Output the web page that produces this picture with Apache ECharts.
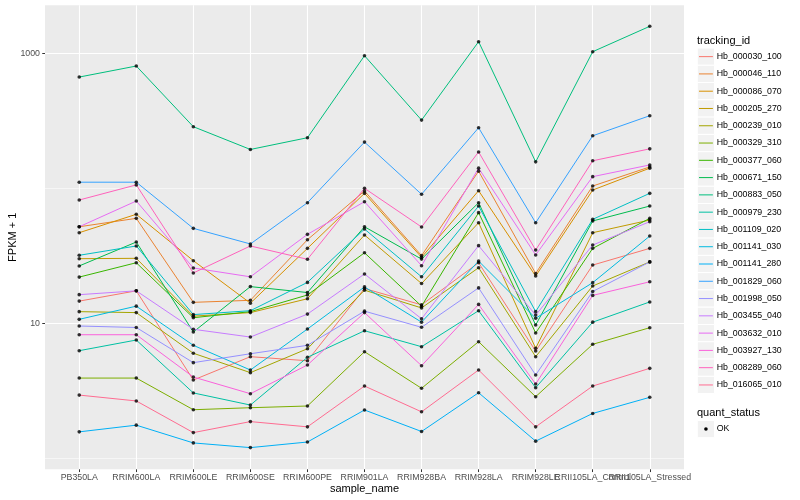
<!DOCTYPE html>
<html><head><meta charset="utf-8">
<script src="https://cdn.jsdelivr.net/npm/echarts@6/dist/echarts.min.js"></script>
<style>html,body{margin:0;padding:0;background:#fff}#chart{width:800px;height:500px}</style>
</head><body><div id="chart"></div>
<script>
// ---- data ----
const categories = ['PB350LA','RRIM600LA','RRIM600LE','RRIM600SE','RRIM600PE','RRIM901LA','RRIM928BA','RRIM928LA','RRIM928LE','RRII105LA_Control','RRII105LA_Stressed'];
const Hb_000030_100 = [14.6, 17.4, 3.80, 5.66, 5.28, 18.1, 13.7, 28.1, 6.23, 27.0, 35.9];
const Hb_000046_110 = [51.9, 59.9, 14.3, 14.8, 41.6, 95.5, 31.7, 134, 23.4, 104, 144];
const Hb_000086_070 = [46.9, 64.2, 29.1, 14.1, 35.9, 91.8, 30.8, 96.0, 22.4, 97.1, 141];
const Hb_000205_270 = [30.1, 30.3, 11.3, 12.0, 15.2, 45.1, 19.7, 55.6, 6.53, 46.9, 58.2];
const Hb_000239_010 = [12.2, 12.0, 6.00, 4.31, 6.48, 17.6, 13.0, 25.8, 5.66, 18.9, 28.5];
const Hb_000329_310 = [3.93, 3.93, 2.29, 2.37, 2.44, 6.16, 3.30, 7.31, 2.86, 6.99, 9.28];
const Hb_000377_060 = [22.0, 28.1, 11.0, 12.2, 16.2, 33.3, 13.4, 66.0, 8.48, 35.9, 59.9];
const Hb_000671_150 = [26.6, 40.0, 8.62, 18.7, 16.9, 51.9, 29.9, 78.2, 9.71, 57.3, 73.9];
const Hb_000883_050 = [667, 805, 286, 194, 237, 960, 320, 1219, 157, 1028, 1585];
const Hb_000979_230 = [6.27, 7.52, 3.05, 2.48, 5.60, 8.81, 6.71, 12.4, 3.33, 10.2, 14.4];
const Hb_001109_020 = [31.9, 37.4, 11.6, 12.4, 20.1, 49.9, 22.1, 73.9, 12.2, 58.9, 91.8];
const Hb_001141_030 = [10.7, 13.4, 6.87, 4.51, 9.07, 18.6, 10.2, 28.9, 10.9, 20.0, 44.3];
const Hb_001141_280 = [1.57, 1.76, 1.30, 1.20, 1.32, 2.28, 1.58, 3.06, 1.34, 2.15, 2.83];
const Hb_001829_060 = [111, 111, 50.5, 38.7, 78.2, 220, 90.3, 281, 55.6, 245, 345];
const Hb_001998_050 = [9.55, 9.31, 5.11, 5.95, 6.87, 12.3, 9.34, 18.3, 4.14, 17.2, 28.5];
const Hb_003455_040 = [16.3, 17.4, 9.03, 7.91, 11.7, 23.2, 10.8, 37.6, 11.5, 38.0, 56.6];
const Hb_003632_010 = [51.9, 80.5, 25.7, 22.1, 45.6, 79.6, 26.7, 141, 32.1, 122, 149];
const Hb_003927_130 = [8.23, 8.23, 4.00, 3.01, 4.91, 12.0, 4.85, 13.8, 3.55, 16.1, 20.3];
const Hb_008289_060 = [81.9, 106, 23.6, 37.4, 29.8, 100, 51.7, 186, 34.9, 160, 196];
const Hb_016065_010 = [2.94, 2.66, 1.55, 1.87, 1.71, 3.43, 2.21, 4.51, 1.71, 3.43, 4.64];

const geneNames = ['Hb_000030_100','Hb_000046_110','Hb_000086_070','Hb_000205_270','Hb_000239_010','Hb_000329_310','Hb_000377_060','Hb_000671_150','Hb_000883_050','Hb_000979_230','Hb_001109_020','Hb_001141_030','Hb_001141_280','Hb_001829_060','Hb_001998_050','Hb_003455_040','Hb_003632_010','Hb_003927_130','Hb_008289_060','Hb_016065_010'];
const geneValues = [Hb_000030_100,Hb_000046_110,Hb_000086_070,Hb_000205_270,Hb_000239_010,Hb_000329_310,Hb_000377_060,Hb_000671_150,Hb_000883_050,Hb_000979_230,Hb_001109_020,Hb_001141_030,Hb_001141_280,Hb_001829_060,Hb_001998_050,Hb_003455_040,Hb_003632_010,Hb_003927_130,Hb_008289_060,Hb_016065_010];
const yMajorTicks = [10, 1000];
const yMinorTicks = [1, 100];
const yRange = [0.829, 2268];
const quantStatus = ['OK'];

// ---- style ----
const colors = ['#F8766D','#EA8331','#D89000','#C09B00','#A3A500','#7CAE00','#39B600','#00BB4E','#00BF7D','#00C1A3','#00BFC4','#00BAE0','#00B0F6','#35A2FF','#9590FF','#C77CFF','#E76BF3','#FA62DB','#FF62BC','#FF6C91'];
const FONT = 'Liberation Sans, Arial, Helvetica, sans-serif';
const lg = Math.log10;

// split category label positions over two axes so neighbouring labels may overlap like the original
const xIdxAll = categories.map((c, i) => i);
const xIdxA = xIdxAll.filter(i => i % 2 === 0);
const xIdxB = xIdxAll.filter(i => i % 2 === 1);

const series = [];
geneValues.forEach((vals, g) => {
  const data = vals.map((v, i) => [i, lg(v)]);
  series.push({type: 'line', name: geneNames[g], data, showSymbol: false, z: 2,
    lineStyle: {color: colors[g], width: 1}, itemStyle: {color: colors[g]}, silent: true});
});
geneValues.forEach((vals, g) => {
  const data = vals.map((v, i) => [i, lg(v)]);
  series.push({type: 'scatter', name: geneNames[g] + '_pt', data, symbol: 'circle', symbolSize: 3.6, z: 3,
    itemStyle: {color: '#000'}, silent: true});
});

// legend drawn with graphics built from names/colors
const graphic = [];
const lx = 697.3, keyH = 17.28, lTop = 48;
graphic.push({type: 'text', x: 697, y: 40.5, style: {text: 'tracking_id', font: '11px ' + FONT, fill: '#000', verticalAlign: 'middle'}});
geneNames.forEach((n, i) => {
  const y = lTop + i * keyH;
  graphic.push({type: 'rect', shape: {x: lx, y: y, width: keyH, height: keyH}, style: {fill: '#F2F2F2', stroke: '#FFFFFF', lineWidth: 1}});
  graphic.push({type: 'line', shape: {x1: lx + 1.7, y1: y + keyH / 2, x2: lx + keyH - 1.7, y2: y + keyH / 2}, style: {stroke: colors[i], lineWidth: 1}});
  graphic.push({type: 'text', x: 716.7, y: y + keyH / 2, style: {text: n, font: '8.8px ' + FONT, fill: '#000', verticalAlign: 'middle'}});
});
const qTop = 420.4;
graphic.push({type: 'text', x: 697, y: 412.7, style: {text: 'quant_status', font: '11px ' + FONT, fill: '#000', verticalAlign: 'middle'}});
quantStatus.forEach((q, i) => {
  const y = qTop + i * keyH;
  graphic.push({type: 'rect', shape: {x: lx, y: y, width: keyH, height: keyH}, style: {fill: '#F2F2F2', stroke: '#FFFFFF', lineWidth: 1}});
  graphic.push({type: 'circle', shape: {cx: lx + keyH / 2, cy: y + keyH / 2, r: 1.8}, style: {fill: '#000'}});
  graphic.push({type: 'text', x: 716.7, y: y + keyH / 2, style: {text: q, font: '8.8px ' + FONT, fill: '#000', verticalAlign: 'middle'}});
});

const xLabelStyle = {formatter: v => categories[Math.round(v)], color: '#4D4D4D', fontSize: 8.8, fontFamily: FONT, margin: 4, hideOverlap: false, showMinLabel: true, showMaxLabel: true};
const chart = echarts.init(document.getElementById('chart'), null, {renderer: 'canvas'});
chart.setOption({
  animation: false,
  backgroundColor: '#FFFFFF',
  grid: {left: 45, right: 116, top: 5.3, bottom: 30.7, show: true, backgroundColor: '#EBEBEB', borderWidth: 0, containLabel: false, outerBoundsMode: 'none'},
  xAxis: [{
    type: 'value', min: -0.6, max: 10.6, position: 'bottom',
    name: 'sample_name', nameLocation: 'middle', nameGap: 14, nameMoveOverlap: false,
    nameTextStyle: {color: '#000', fontSize: 11, fontFamily: FONT},
    axisLine: {show: false, onZero: false},
    axisTick: {show: true, customValues: xIdxA, length: 2.75, lineStyle: {color: '#333333', width: 1}},
    axisLabel: Object.assign({customValues: xIdxA}, xLabelStyle),
    splitLine: {show: true, lineStyle: {color: '#FFFFFF', width: 1.1}}
  }, {
    type: 'value', min: -0.6, max: 10.6, position: 'bottom',
    axisLine: {show: false, onZero: false},
    axisTick: {show: true, customValues: xIdxB, length: 2.75, lineStyle: {color: '#333333', width: 1}},
    axisLabel: Object.assign({customValues: xIdxB}, xLabelStyle),
    splitLine: {show: true, lineStyle: {color: '#FFFFFF', width: 1.1}}
  }],
  yAxis: [{
    type: 'value', min: lg(yRange[0]), max: lg(yRange[1]),
    name: 'FPKM + 1', nameLocation: 'middle', nameGap: 27, nameMoveOverlap: false,
    nameTextStyle: {color: '#000', fontSize: 11, fontFamily: FONT},
    axisLine: {show: false, onZero: false},
    axisTick: {show: true, customValues: yMajorTicks.map(lg), length: 2.75, lineStyle: {color: '#333333', width: 1}},
    axisLabel: {customValues: yMajorTicks.map(lg), formatter: v => String(Math.round(Math.pow(10, v))), color: '#4D4D4D', fontSize: 8.8, fontFamily: FONT, margin: 5},
    splitLine: {show: true, lineStyle: {color: '#FFFFFF', width: 1.1}}
  }, {
    type: 'value', min: lg(yRange[0]), max: lg(yRange[1]), position: 'left',
    axisLine: {show: false, onZero: false},
    axisTick: {show: false, customValues: yMinorTicks.map(lg)},
    axisLabel: {show: false, customValues: yMinorTicks.map(lg)},
    splitLine: {show: true, lineStyle: {color: '#FFFFFF', width: 0.55}}
  }],
  series: series,
  graphic: graphic
});
</script>
</body></html>
